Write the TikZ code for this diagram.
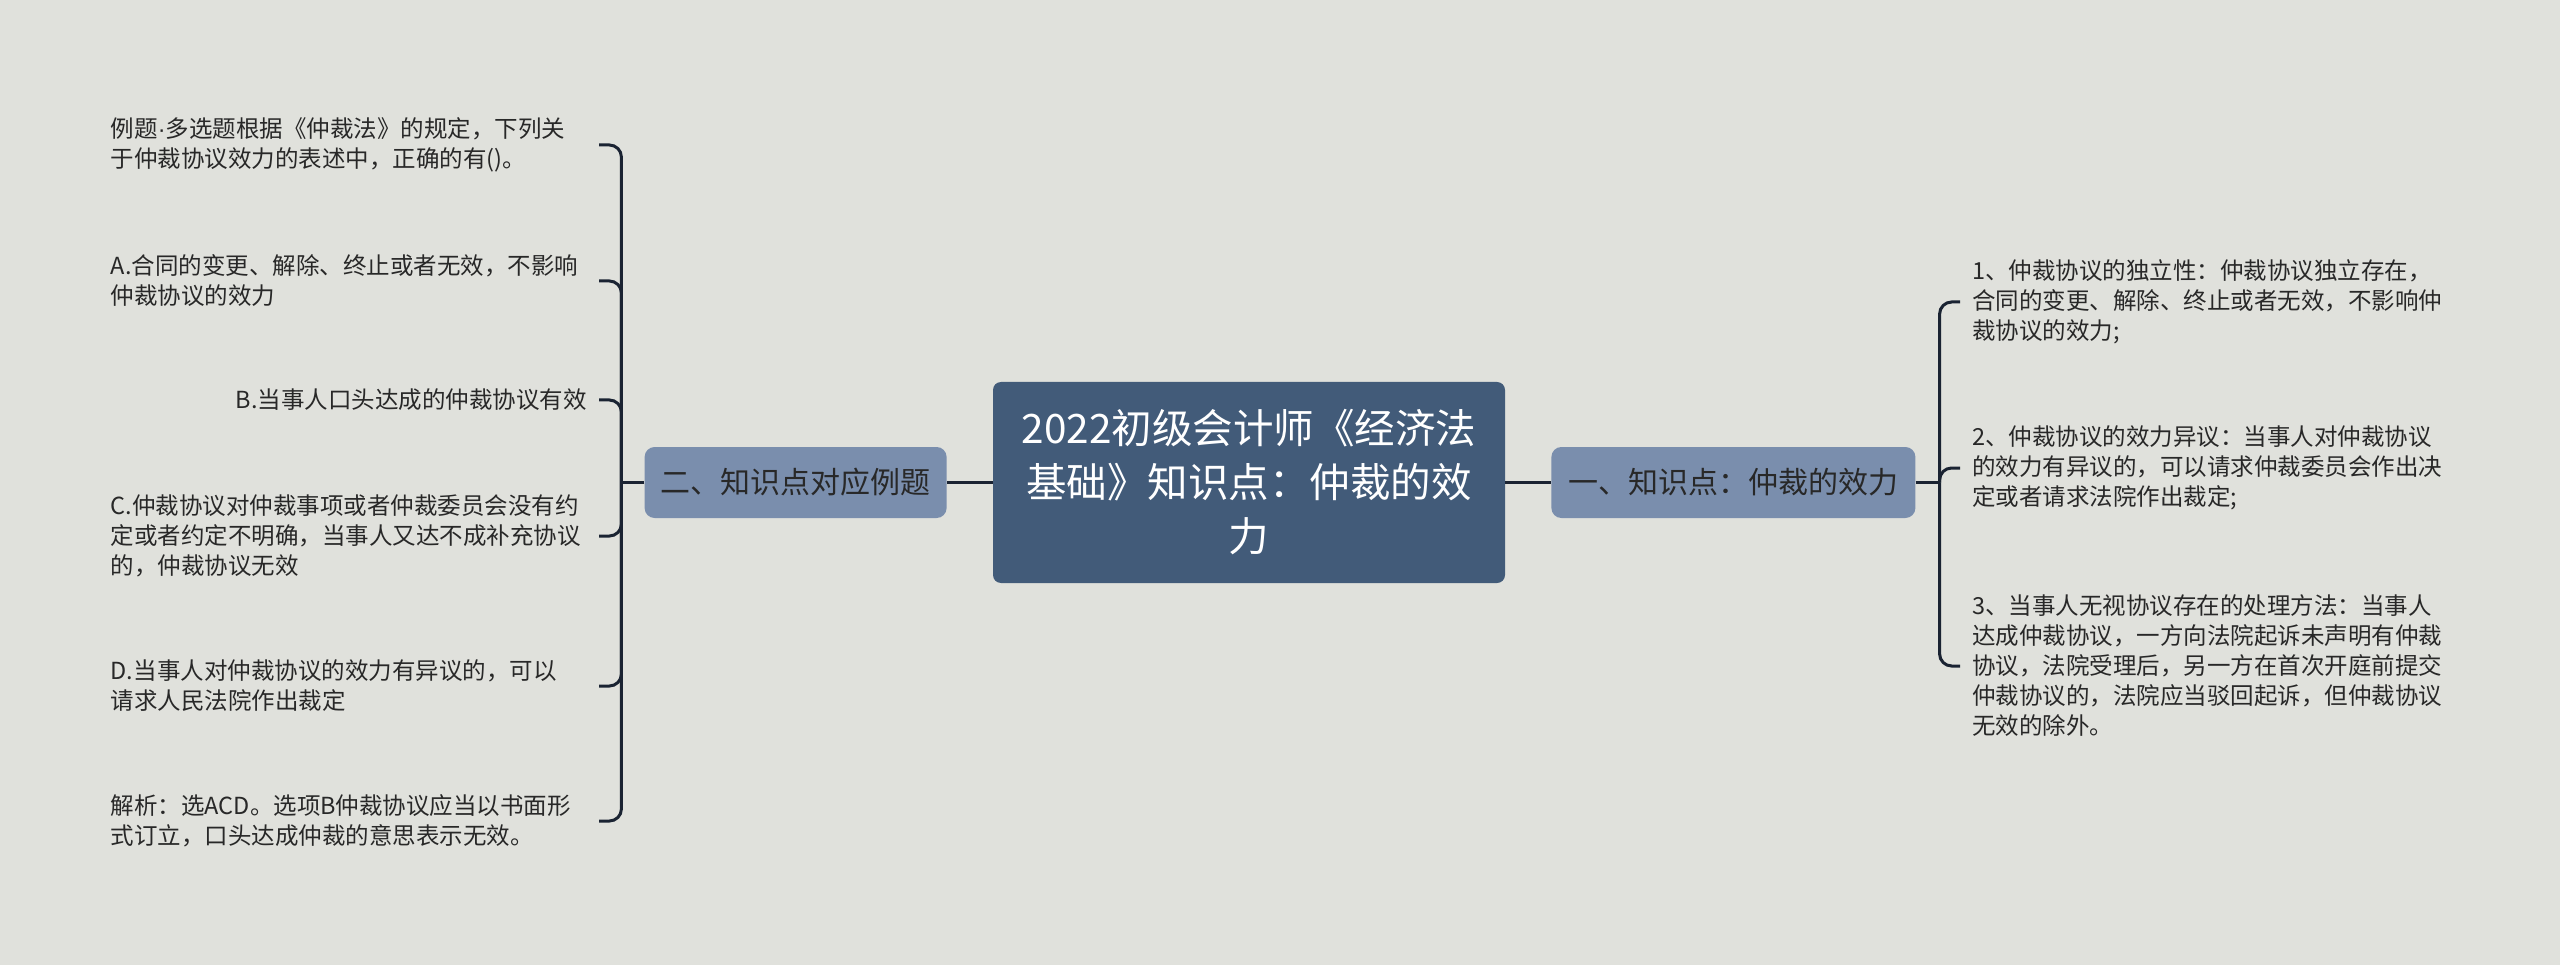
\documentclass[tikz,border=0pt]{standalone}
\usepackage{fontspec}
\newfontfamily\cjk{Noto Sans CJK SC}
\newfontfamily\latin{Liberation Sans}
\usetikzlibrary{positioning}
\definecolor{paper}{RGB}{224,225,220}
\definecolor{slate}{RGB}{66,91,121}
\definecolor{steel}{RGB}{122,142,173}
\definecolor{ink}{RGB}{26,35,50}
\definecolor{txt}{RGB}{40,40,40}
\tikzset{
  rootbox/.style={fill=slate,rounded corners=8pt,text=white,align=center,
    minimum width=512pt,minimum height=201pt,font=\cjk\fontsize{40.5}{54}\selectfont},
  topic/.style={fill=steel,rounded corners=10pt,text=txt,minimum height=71pt,
    font=\cjk\fontsize{30}{36}\selectfont},
  leaf/.style={text=txt,inner xsep=12pt,inner ysep=0pt,text width=#1,
    font=\cjk\fontsize{23.5}{30}\selectfont},
  leaf/.default=476pt,
  link/.style={draw=ink,line width=3pt},
  hook/.style={link,rounded corners=12pt},
}
\begin{document}
\begin{tikzpicture}[x=1pt,y=-1pt]
  \fill[paper] (0,0) rectangle (2560,965);
  \useasboundingbox (0,0) rectangle (2560,965);

  \node[rootbox] (root) at (1249,482.5) {2022初级会计师《经济法\\基础》知识点：仲裁的效\\力};
  \node[topic,minimum width=302pt,left=46pt of root] (sec2) {二、知识点对应例题};
  \node[topic,minimum width=364pt,right=46pt of root] (sec1) {一、知识点：仲裁的效力};
  \draw[link] (root) -- (sec2);
  \draw[link] (root) -- (sec1);

  % examples
  \node[leaf,anchor=east,align=left] (ex1) at (599,145) {例题{\latin ·}多选题根据《仲裁法》的规定，下列关\\于仲裁协议效力的表述中，正确的有()。};
  \node[leaf,anchor=east,align=left] (ex2) at (599,281) {A.合同的变更、解除、终止或者无效，不影响\\仲裁协议的效力};
  \node[leaf,anchor=east,align=right] (ex3) at (599,400) {B.当事人口头达成的仲裁协议有效};
  \node[leaf,anchor=east,align=left] (ex4) at (599,536) {C.仲裁协议对仲裁事项或者仲裁委员会没有约\\定或者约定不明确，当事人又达不成补充协议\\的，仲裁协议无效};
  \node[leaf,anchor=east,align=left] (ex5) at (599,686) {D.当事人对仲裁协议的效力有异议的，可以\\请求人民法院作出裁定};
  \node[leaf,anchor=east,align=left] (ex6) at (599,821) {解析：选ACD。选项B仲裁协议应当以书面形\\式订立，口头达成仲裁的意思表示无效。};
  \coordinate (j2) at ([xshift=-23pt]sec2.west);
  \draw[link] (sec2.west) -- (j2);
  \foreach \i in {1,...,6}
    \draw[hook] (j2) |- (ex\i.east);

  % points
  \node[leaf=480pt,anchor=west,align=left] (pt1) at (1960,302) {1、仲裁协议的独立性：仲裁协议独立存在，\\合同的变更、解除、终止或者无效，不影响仲\\裁协议的效力;};
  \node[leaf=480pt,anchor=west,align=left] (pt2) at (1960,468) {2、仲裁协议的效力异议：当事人对仲裁协议\\的效力有异议的，可以请求仲裁委员会作出决\\定或者请求法院作出裁定;};
  \node[leaf=480pt,anchor=west,align=left] (pt3) at (1960,666) {3、当事人无视协议存在的处理方法：当事人\\达成仲裁协议，一方向法院起诉未声明有仲裁\\协议，法院受理后，另一方在首次开庭前提交\\仲裁协议的，法院应当驳回起诉，但仲裁协议\\无效的除外。};
  \coordinate (j1) at ([xshift=24pt]sec1.east);
  \draw[link] (sec1.east) -- (j1);
  \foreach \i in {1,2,3}
    \draw[hook] (j1) |- (pt\i.west);
\end{tikzpicture}
\end{document}
